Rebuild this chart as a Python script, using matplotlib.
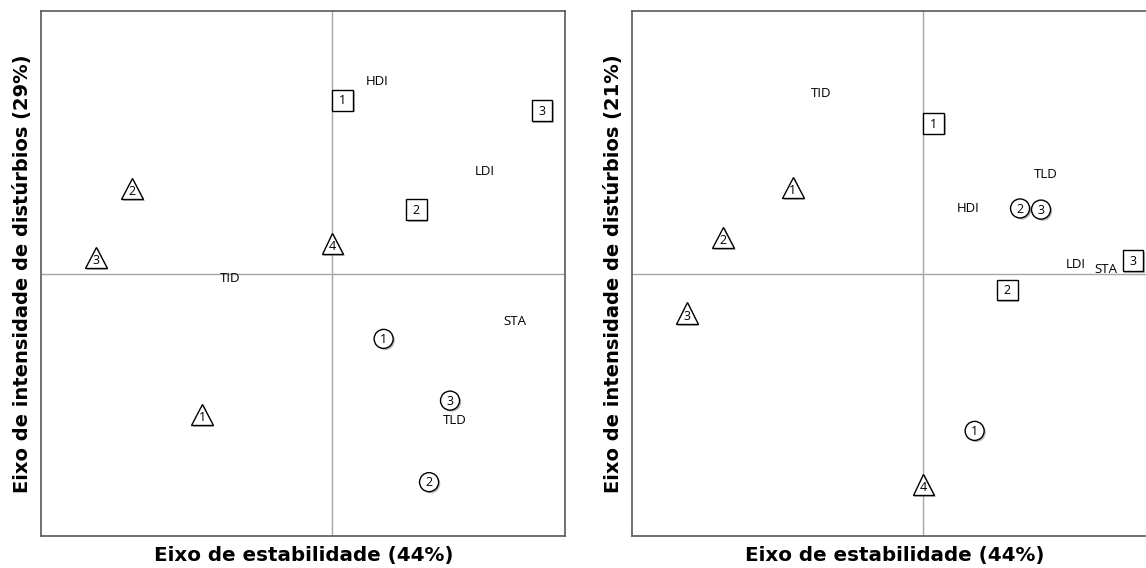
import matplotlib
matplotlib.use("Agg")
import matplotlib.pyplot as plt
import matplotlib.patheffects as pe

# 各组样点坐标 (两个排序图共用第一轴)
SQUARE_IDS = ["1", "2", "3"]
SQUARE_X = [0.09, 0.72, 1.80]
SQUARE_Y_AX2 = [1.49, 0.55, 1.40]
SQUARE_Y_AX3 = [1.29, -0.14, 0.11]

TRIANGLE_IDS = ["1", "2", "3", "4"]
TRIANGLE_X = [-1.12, -1.72, -2.03, 0.0]
TRIANGLE_Y_AX2 = [-1.21, 0.73, 0.14, 0.26]
TRIANGLE_Y_AX3 = [0.74, 0.31, -0.34, -1.81]

CIRCLE_IDS = ["1", "2", "3"]
CIRCLE_X = [0.44, 0.83, 1.01]
CIRCLE_Y_AX2 = [-0.56, -1.79, -1.09]
CIRCLE_Y_AX3 = [-1.35, 0.56, 0.55]

# 环境变量
VAR_NAMES = ["HDI", "LDI", "TID", "STA", "TLD"]
VAR_X = [0.38, 1.31, -0.88, 1.57, 1.05]
VAR_Y_AX2 = [1.65, 0.88, -0.04, -0.41, -1.26]
VAR_Y_AX3 = [0.56, 0.08, 1.55, 0.04, 0.85]

X_LABEL = "Eixo de estabilidade (44%)"
Y_LABELS = ["Eixo de intensidade de distúrbios (29%)",
            "Eixo de intensidade de distúrbios (21%)"]

XLIM = (-2.5, 2.0)
YLIM = (-2.255, 2.255)
LABEL_FONT = ["Open Sans", "DejaVu Sans"]

shadow = [pe.SimplePatchShadow(offset=(1.2, -1.2), shadow_rgbFace="0.55", alpha=0.6),
          pe.Normal()]


def draw_group(ax, xs, ys, ids, marker, size, dy):
    """画带编号的样点"""
    ax.plot(xs, ys, linestyle="none", marker=marker, markersize=size,
            markerfacecolor="white", markeredgecolor="black",
            markeredgewidth=1.0, path_effects=shadow, zorder=3)
    for x, y, s in zip(xs, ys, ids):
        ax.annotate(s, (x, y), xytext=(0, dy), textcoords="offset points",
                    ha="center", va="center", fontsize=9,
                    family=LABEL_FONT, zorder=4)


def draw_panel(ax, sq_y, tri_y, cir_y, var_y, ylabel):
    ax.set_xlim(*XLIM)
    ax.set_ylim(*YLIM)
    ax.axhline(0, color="0.65", linewidth=1.0, zorder=1)
    ax.axvline(0, color="0.65", linewidth=1.0, zorder=1)

    draw_group(ax, SQUARE_X, sq_y, SQUARE_IDS, "s", 15, -0.5)
    draw_group(ax, TRIANGLE_X, tri_y, TRIANGLE_IDS, "^", 15.5, -2.0)
    draw_group(ax, CIRCLE_X, cir_y, CIRCLE_IDS, "o", 13.7, -0.5)

    for name, x, y in zip(VAR_NAMES, VAR_X, var_y):
        ax.text(x, y, name, ha="center", va="center", fontsize=9.5,
                family=LABEL_FONT, zorder=4)

    ax.set_xticks([])
    ax.set_yticks([])
    for sp in ax.spines.values():
        sp.set_color("0.35")
        sp.set_linewidth(1.2)
    ax.set_xlabel(X_LABEL, fontsize=14.3, fontweight="bold", labelpad=7)
    ax.set_ylabel(ylabel, fontsize=14, fontweight="bold", labelpad=7)


fig = plt.figure(figsize=(11.46, 5.68), dpi=100)
ax1 = fig.add_axes([0.0360, 0.0558, 0.4573, 0.9248])
ax2 = fig.add_axes([0.5517, 0.0558, 0.4573, 0.9248])

draw_panel(ax1, SQUARE_Y_AX2, TRIANGLE_Y_AX2, CIRCLE_Y_AX2, VAR_Y_AX2, Y_LABELS[0])
draw_panel(ax2, SQUARE_Y_AX3, TRIANGLE_Y_AX3, CIRCLE_Y_AX3, VAR_Y_AX3, Y_LABELS[1])

fig.savefig("out.png", dpi=100)
